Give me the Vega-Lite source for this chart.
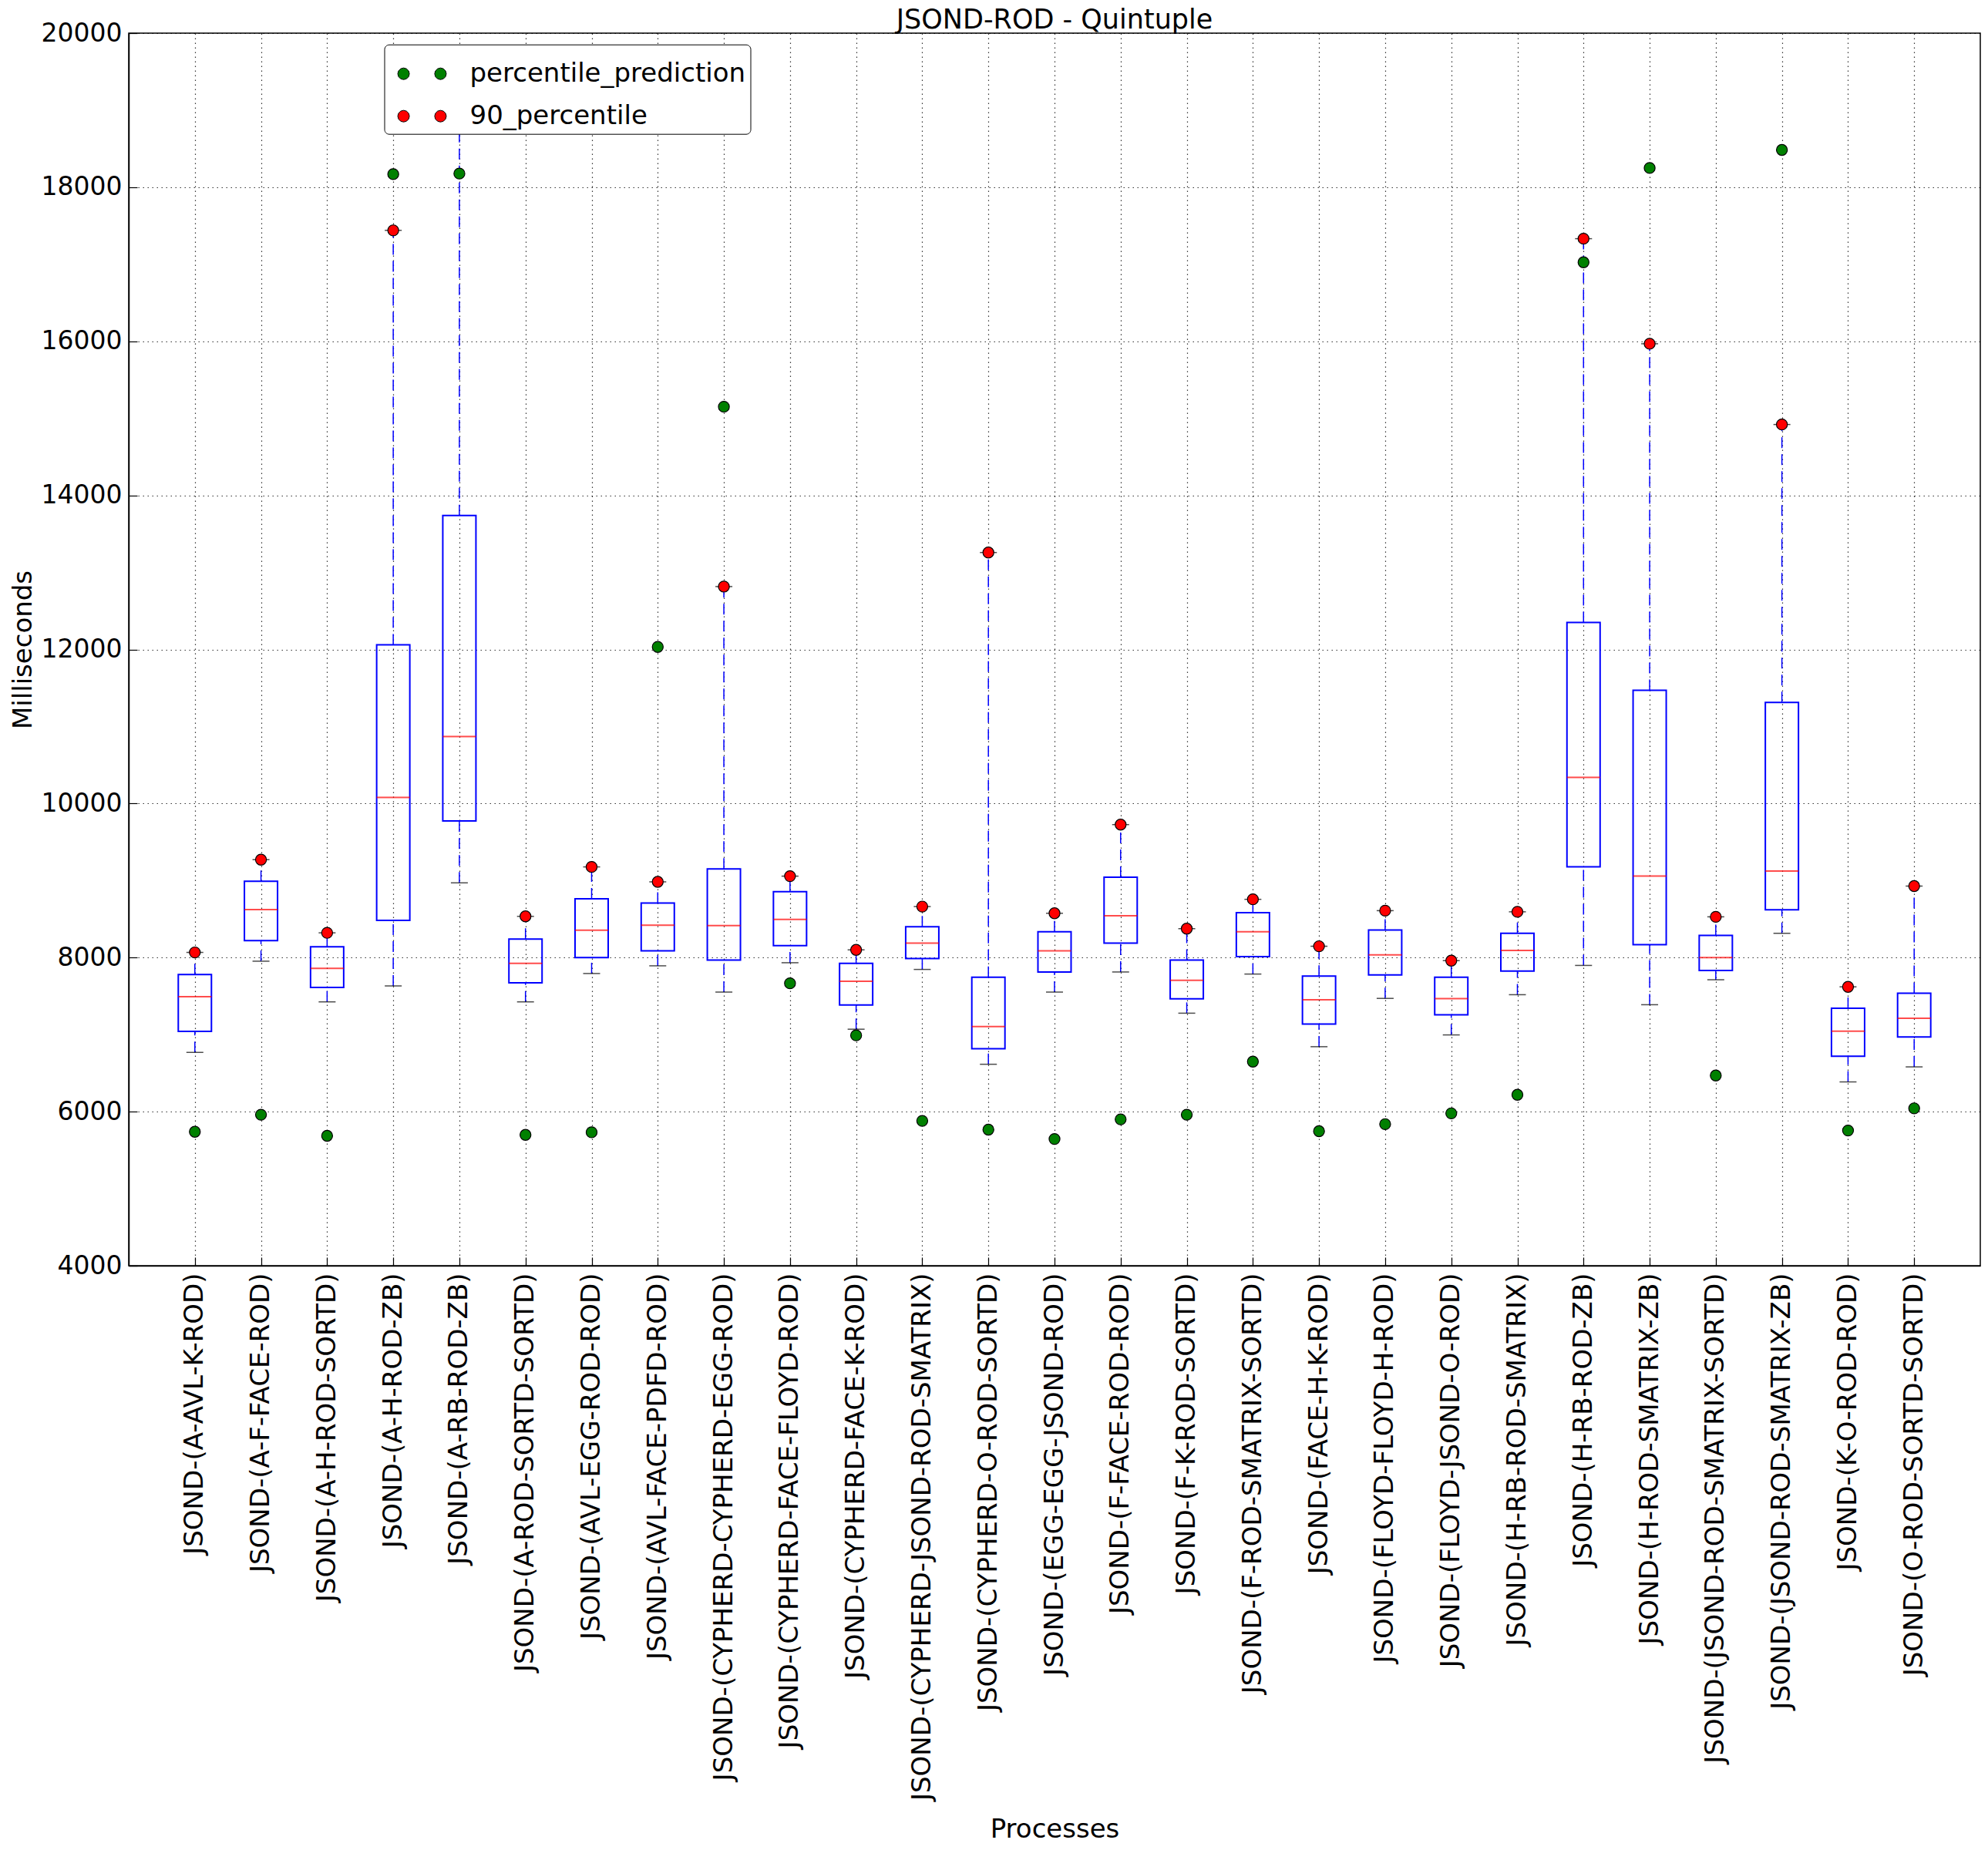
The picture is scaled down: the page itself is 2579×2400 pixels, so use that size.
{
  "$schema": "https://vega.github.io/schema/vega-lite/v6.json",
  "width": 2402,
  "height": 1599,
  "autosize": {"type": "none"},
  "padding": {"left": 167, "top": 43, "right": 10, "bottom": 758},
  "background": "white",
  "title": {"text": "JSOND-ROD - Quintuple", "fontSize": 35, "font": "DejaVu Sans", "fontWeight": "normal", "color": "black", "offset": 4, "dy": 49, "baseline": "alphabetic", "anchor": "middle"},
  "data": {"values": [
    {"process": "JSOND-(A-AVL-K-ROD)", "lo": 6769, "q1": 7043, "med": 7492, "q3": 7779, "p90": 8067, "pred": 5739},
    {"process": "JSOND-(A-F-FACE-ROD)", "lo": 7953, "q1": 8221, "med": 8622, "q3": 8990, "p90": 9271, "pred": 5960},
    {"process": "JSOND-(A-H-ROD-SORTD)", "lo": 7425, "q1": 7612, "med": 7859, "q3": 8140, "p90": 8321, "pred": 5686},
    {"process": "JSOND-(A-H-ROD-ZB)", "lo": 7632, "q1": 8482, "med": 10080, "q3": 12060, "p90": 17440, "pred": 18170},
    {"process": "JSOND-(A-RB-ROD-ZB)", "lo": 8970, "q1": 9773, "med": 10870, "q3": 13739, "p90": 19400, "pred": 18177},
    {"process": "JSOND-(A-ROD-SORTD-SORTD)", "lo": 7425, "q1": 7672, "med": 7926, "q3": 8241, "p90": 8535, "pred": 5699},
    {"process": "JSOND-(AVL-EGG-ROD-ROD)", "lo": 7793, "q1": 8000, "med": 8355, "q3": 8763, "p90": 9177, "pred": 5732},
    {"process": "JSOND-(AVL-FACE-PDFD-ROD)", "lo": 7893, "q1": 8087, "med": 8421, "q3": 8709, "p90": 8983, "pred": 12033},
    {"process": "JSOND-(CYPHERD-CYPHERD-EGG-ROD)", "lo": 7552, "q1": 7967, "med": 8415, "q3": 9150, "p90": 12816, "pred": 15150},
    {"process": "JSOND-(CYPHERD-FACE-FLOYD-ROD)", "lo": 7933, "q1": 8154, "med": 8495, "q3": 8856, "p90": 9057, "pred": 7666},
    {"process": "JSOND-(CYPHERD-FACE-K-ROD)", "lo": 7070, "q1": 7385, "med": 7692, "q3": 7926, "p90": 8100, "pred": 6990},
    {"process": "JSOND-(CYPHERD-JSOND-ROD-SMATRIX)", "lo": 7846, "q1": 7987, "med": 8187, "q3": 8401, "p90": 8662, "pred": 5880},
    {"process": "JSOND-(CYPHERD-O-ROD-SORTD)", "lo": 6615, "q1": 6816, "med": 7104, "q3": 7746, "p90": 13258, "pred": 5766},
    {"process": "JSOND-(EGG-EGG-JSOND-ROD)", "lo": 7552, "q1": 7813, "med": 8087, "q3": 8334, "p90": 8575, "pred": 5645},
    {"process": "JSOND-(F-FACE-ROD-ROD)", "lo": 7813, "q1": 8187, "med": 8542, "q3": 9043, "p90": 9726, "pred": 5900},
    {"process": "JSOND-(F-K-ROD-SORTD)", "lo": 7278, "q1": 7465, "med": 7706, "q3": 7967, "p90": 8375, "pred": 5960},
    {"process": "JSOND-(F-ROD-SMATRIX-SORTD)", "lo": 7786, "q1": 8013, "med": 8334, "q3": 8582, "p90": 8756, "pred": 6649},
    {"process": "JSOND-(FACE-H-K-ROD)", "lo": 6843, "q1": 7137, "med": 7451, "q3": 7759, "p90": 8147, "pred": 5746},
    {"process": "JSOND-(FLOYD-FLOYD-H-ROD)", "lo": 7470, "q1": 7774, "med": 8034, "q3": 8357, "p90": 8609, "pred": 5838},
    {"process": "JSOND-(FLOYD-JSOND-O-ROD)", "lo": 6996, "q1": 7257, "med": 7467, "q3": 7746, "p90": 7960, "pred": 5978},
    {"process": "JSOND-(H-RB-ROD-SMATRIX)", "lo": 7518, "q1": 7824, "med": 8093, "q3": 8315, "p90": 8594, "pred": 6219},
    {"process": "JSOND-(H-RB-ROD-ZB)", "lo": 7898, "q1": 9178, "med": 10338, "q3": 12350, "p90": 17332, "pred": 17026},
    {"process": "JSOND-(H-ROD-SMATRIX-ZB)", "lo": 7388, "q1": 8167, "med": 9057, "q3": 11469, "p90": 15968, "pred": 18250},
    {"process": "JSOND-(JSOND-ROD-SMATRIX-SORTD)", "lo": 7712, "q1": 7833, "med": 8000, "q3": 8288, "p90": 8529, "pred": 6469},
    {"process": "JSOND-(JSOND-ROD-SMATRIX-ZB)", "lo": 8315, "q1": 8621, "med": 9122, "q3": 11311, "p90": 14920, "pred": 18484},
    {"process": "JSOND-(K-O-ROD-ROD)", "lo": 6386, "q1": 6720, "med": 7045, "q3": 7341, "p90": 7620, "pred": 5755},
    {"process": "JSOND-(O-ROD-SORTD-SORTD)", "lo": 6581, "q1": 6970, "med": 7212, "q3": 7536, "p90": 8928, "pred": 6043}
  ]},
  "encoding": {
    "x": {
      "field": "process", "type": "nominal", "sort": null,
      "scale": {"type": "point", "padding": 1},
      "axis": {"labelAngle": 270, "labelLimit": 2000, "grid": true, "title": "Processes", "titleY": 741, "titleBaseline": "alphabetic", "labelFontSize": 34}
    }
  },
  "layer": [
    {
      "mark": {"type": "rule", "color": "#0000ff", "strokeWidth": 1.5, "strokeDash": [14, 8]},
      "encoding": {
        "y": {"field": "lo", "type": "quantitative", "title": "Milliseconds", "scale": {"domain": [4000, 20000], "nice": false, "zero": false},
              "axis": {"values": [4000, 6000, 8000, 10000, 12000, 14000, 16000, 18000, 20000], "format": "d", "grid": true, "titleX": -127, "titleY": 799.5, "titleBaseline": "alphabetic", "labelFontSize": 33}},
        "y2": {"field": "q1"}
      }
    },
    {
      "mark": {"type": "rule", "color": "#0000ff", "strokeWidth": 1.5, "strokeDash": [14, 8]},
      "encoding": {
        "y": {"field": "q3", "type": "quantitative", "title": "Milliseconds"},
        "y2": {"field": "p90"}
      }
    },
    {
      "mark": {"type": "bar", "width": 43, "fillOpacity": 0, "fill": "white", "stroke": "#0000ff", "strokeWidth": 2},
      "encoding": {
        "y": {"field": "q1", "type": "quantitative", "title": "Milliseconds"},
        "y2": {"field": "q3"}
      }
    },
    {
      "mark": {"type": "tick", "color": "#ff0000", "size": 43, "thickness": 2},
      "encoding": {"y": {"field": "med", "type": "quantitative", "title": "Milliseconds"}}
    },
    {
      "mark": {"type": "tick", "color": "black", "size": 22, "thickness": 1.5},
      "encoding": {"y": {"field": "lo", "type": "quantitative", "title": "Milliseconds"}}
    },
    {
      "mark": {"type": "tick", "color": "black", "size": 22, "thickness": 1.5},
      "encoding": {"y": {"field": "p90", "type": "quantitative", "title": "Milliseconds"}}
    },
    {
      "mark": {"type": "circle", "size": 200, "opacity": 1, "stroke": "black", "strokeWidth": 1.2},
      "encoding": {
        "y": {"field": "p90", "type": "quantitative", "title": "Milliseconds"},
        "color": {"datum": "90_percentile", "type": "nominal",
                  "scale": {"domain": ["percentile_prediction", "90_percentile"], "range": ["#008000", "#ff0000"]},
                  "legend": {"orient": "none", "legendX": 331.5, "legendY": 14.7, "title": null}}
      }
    },
    {
      "mark": {"type": "circle", "size": 200, "opacity": 1, "stroke": "black", "strokeWidth": 1.2},
      "encoding": {
        "y": {"field": "pred", "type": "quantitative", "title": "Milliseconds"},
        "color": {"datum": "percentile_prediction", "type": "nominal"}
      }
    }
  ],
  "config": {
    "view": {"stroke": "black", "strokeWidth": 1.5},
    "font": "DejaVu Sans",
    "axis": {
      "labelFont": "DejaVu Sans", "titleFont": "DejaVu Sans", "labelColor": "black", "titleColor": "black",
      "titleFontWeight": "normal", "titleFontSize": 34, "domainColor": "black", "domainWidth": 1.5,
      "tickColor": "black", "tickWidth": 1.2, "tickSize": -11, "labelPadding": 20,
      "gridColor": "black", "gridDash": [1.5, 4.5], "gridWidth": 1.2, "gridOpacity": 0.8
    },
    "legend": {
      "symbolType": "M-0.52,0L-0.552,0.12L-0.64,0.208L-0.76,0.24L-0.88,0.208L-0.968,0.12L-1,0L-0.968,-0.12L-0.88,-0.208L-0.76,-0.24L-0.64,-0.208L-0.552,-0.12ZM1,0L0.968,0.12L0.88,0.208L0.76,0.24L0.64,0.208L0.552,0.12L0.52,0L0.552,-0.12L0.64,-0.208L0.76,-0.24L0.88,-0.208L0.968,-0.12Z",
      "symbolSize": 3969, "symbolStrokeColor": "black", "symbolStrokeWidth": 1, "symbolOpacity": 1, "symbolOffset": 11,
      "labelFont": "DejaVu Sans", "labelFontSize": 34, "labelColor": "black", "labelOffset": 30, "labelLimit": 1000,
      "padding": 6, "rowPadding": 6, "strokeColor": "black", "fillColor": "white", "cornerRadius": 6
    }
  }
}
